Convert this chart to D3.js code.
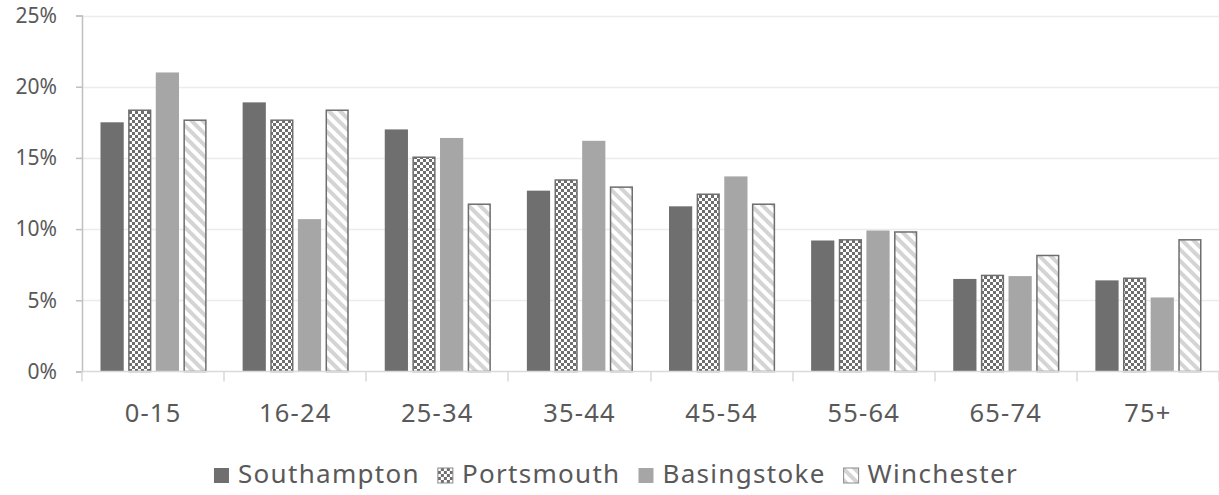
<!DOCTYPE html>
<html><head><meta charset="utf-8">
<script src="https://cdn.jsdelivr.net/npm/d3@7/dist/d3.min.js"></script>
<style>
html,body{margin:0;padding:0;background:#fff;}
svg{display:block;font-family:"Noto Sans","Open Sans",sans-serif;}
</style></head>
<body>
<svg id="chart" width="1219" height="495"></svg>
<script>
const categories = ["0-15","16-24","25-34","35-44","45-54","55-64","65-74","75+"];
const seriesNames = ["Southampton","Portsmouth","Basingstoke","Winchester"];
const southampton = [17.5,18.9,17.0,12.7,11.6,9.2,6.5,6.4];
const portsmouth  = [18.4,17.7,15.1,13.5,12.5,9.3,6.8,6.6];
const basingstoke = [21.0,10.7,16.4,16.2,13.7,9.9,6.7,5.2];
const winchester  = [17.7,18.4,11.8,13.0,11.8,9.85,8.2,9.3];
const yTicks = [0,5,10,15,20,25];

(function(){
const seriesValues = [southampton, portsmouth, basingstoke, winchester];
const svg = d3.select("#chart");
const pLeft = 82, pRight = 1219, pTop = 15.5, pBottom = 371.5;
const txt = "#595959";

const defs = svg.append("defs");
const chk = defs.append("pattern").attr("id","chk").attr("patternUnits","userSpaceOnUse")
  .attr("width",6).attr("height",6);
chk.append("rect").attr("width",6).attr("height",6).attr("fill","#fff");
chk.append("rect").attr("width",3).attr("height",3).attr("fill","#6e6e6e");
chk.append("rect").attr("x",3).attr("y",3).attr("width",3).attr("height",3).attr("fill","#6e6e6e");
const str = defs.append("pattern").attr("id","str").attr("patternUnits","userSpaceOnUse")
  .attr("width",8).attr("height",8).attr("patternTransform","rotate(-45)");
str.append("rect").attr("width",8).attr("height",8).attr("fill","#fff");
str.append("rect").attr("width",4).attr("height",8).attr("fill","#d4d4d4");

const fills = ["#6f6f6f","url(#chk)","#a6a6a6","url(#str)"];
const strokes = [null,"#6e6e6e",null,"#6e6e6e"];

const x = d3.scaleBand().domain(categories).range([pLeft,pRight]).padding(0);
const y = d3.scaleLinear().domain([0,25]).range([pBottom,pTop]);
const cw = x.bandwidth();
const xs = d3.scaleBand().domain(seriesNames).range([18.5, cw-17.5]).paddingInner(0.16).paddingOuter(0);

svg.append("g").selectAll("line").data(yTicks.filter(d=>d>0)).join("line")
  .attr("x1",pLeft).attr("x2",pRight).attr("y1",d=>Math.round(y(d))+0.5).attr("y2",d=>Math.round(y(d))+0.5)
  .attr("stroke","#ececec").attr("stroke-width",1.5);

const yAxis = svg.append("g").attr("transform",`translate(${pLeft},0)`)
  .call(d3.axisLeft(y).tickValues(yTicks).tickFormat(d=>d+"%").tickSize(6).tickPadding(19));
yAxis.select(".domain").attr("stroke","#bfbfbf").attr("stroke-width",1.5);
yAxis.selectAll(".tick line").attr("stroke","#bfbfbf").attr("stroke-width",1.5);
yAxis.selectAll("text").attr("fill",txt).attr("font-size","21px").attr("font-family","Noto Sans");

seriesNames.forEach((s,i)=>{
  const vals = seriesValues[i];
  const sw = strokes[i]?1.5:0;
  svg.append("g").selectAll("rect").data(categories.map((c,j)=>({c,v:vals[j]}))).join("rect")
    .attr("x",d=>x(d.c)+xs(s)+sw/2)
    .attr("y",d=>y(d.v)+sw/2)
    .attr("width",xs.bandwidth()-sw)
    .attr("height",d=>pBottom-y(d.v)-sw/2)
    .attr("fill",fills[i])
    .attr("stroke",strokes[i]||"none").attr("stroke-width",sw);
});

const xAxisG = svg.append("g");
xAxisG.append("line").attr("x1",pLeft).attr("x2",pRight).attr("y1",pBottom).attr("y2",pBottom)
  .attr("stroke","#d9d9d9").attr("stroke-width",1.5);
const bounds = categories.map(c=>x(c)).concat([pRight]);
xAxisG.selectAll("line.t").data(bounds).join("line").attr("class","t")
  .attr("x1",d=>Math.round(d)).attr("x2",d=>Math.round(d)).attr("y1",pBottom).attr("y2",pBottom+10)
  .attr("stroke","#d9d9d9").attr("stroke-width",1.5);
xAxisG.selectAll("text").data(categories).join("text")
  .attr("x",d=>x(d)+cw/2).attr("y",422).attr("text-anchor","middle")
  .attr("fill",txt).attr("font-size","25.5px").attr("letter-spacing","1.2px").text(d=>d);

const lg = svg.append("g");
const items = lg.selectAll("g").data(seriesNames).join("g");
items.append("rect").attr("width",15).attr("height",15).attr("y",-15)
  .attr("fill",(d,i)=>fills[i]).attr("stroke",(d,i)=>strokes[i]?"#8a8a8a":"none").attr("stroke-width",1);
items.append("text").attr("x",24).attr("y",0).attr("fill",txt).attr("font-size","26px")
  .attr("letter-spacing","1.3px").text(d=>d);
let pos = 0; const offs=[];
items.each(function(){ offs.push(pos); const w=d3.select(this).select("text").node().getComputedTextLength(); pos += 24 + w + 18; });
const total = pos - 18;
const startX = 616 - total/2;
items.attr("transform",(d,i)=>`translate(${startX+offs[i]},483)`);
})();
</script>
</body></html>
